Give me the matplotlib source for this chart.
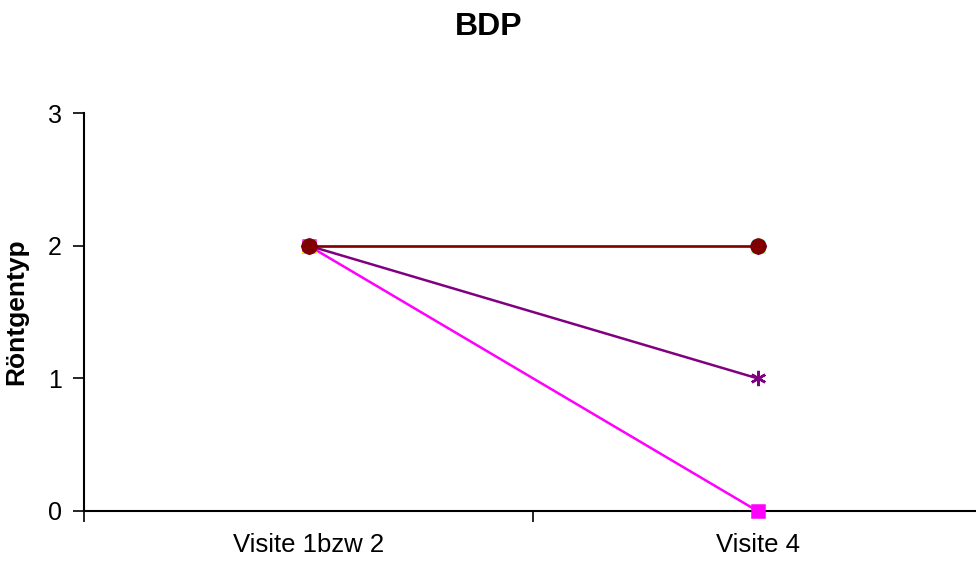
import matplotlib
matplotlib.use("Agg")
import matplotlib.pyplot as plt

plt.rcParams['font.family'] = ['Liberation Sans', 'DejaVu Sans']

categories = ["Visite 1bzw 2", "Visite 4"]
series_values = [
    [2, 2],  # navy diamond
    [2, 0],  # magenta square
    [2, 2],  # yellow triangle
    [2, 2],  # cyan x
    [2, 1],  # purple star
    [2, 2],  # maroon circle
]
colors = ["#000080", "#FF00FF", "#FFFF00", "#00FFFF", "#800080", "#800000"]
markers = ["D", "s", "^", "x", (6, 2, 0), "o"]
sizes = [7, 9, 9, 8, 11, 10]
yticks = [0, 1, 2, 3]

W, H = 976, 565
fig = plt.figure(figsize=(W/100, H/100), dpi=100)
left, right, top, bottom = 84, 982, 113, 511
ax = fig.add_axes([left/W, 1-bottom/H, (right-left)/W, (bottom-top)/H])
x = list(range(len(categories)))
for vals, c, m, s in zip(series_values, colors, markers, sizes):
    ax.plot(x, vals, color=c, marker=m, markersize=s, linewidth=1.8,
            markeredgecolor=c, markerfacecolor=c, markeredgewidth=1.8,
            clip_on=False, zorder=3)

ax.set_xlim(-0.5, 1.5)
ax.set_ylim(0, 3)
ax.set_yticks(yticks)
ax.set_yticklabels([str(v) for v in yticks], fontsize=18)
ax.set_xticks([-0.5, 0.5, 1.5])
ax.set_xticklabels([])
ax.set_xticks(x, minor=True)
ax.set_xticklabels(categories, minor=True, fontsize=18.5)
ax.tick_params(axis='x', which='minor', length=0, pad=16)
ax.tick_params(axis='x', which='major', direction='out', length=8, width=1.2)
ax.tick_params(axis='y', direction='out', length=8, width=1.2, pad=8)
for sp in ['top', 'right']:
    ax.spines[sp].set_visible(False)
ax.spines['left'].set_linewidth(1.5)
ax.spines['bottom'].set_linewidth(1.5)
ax.set_ylabel("Röntgentyp", fontsize=19, fontweight='bold', labelpad=14)
fig.text(489/W, 1-27/H, "BDP", ha='center', va='center', fontsize=23, fontweight='bold')

fig.savefig("out.png", dpi=100)
